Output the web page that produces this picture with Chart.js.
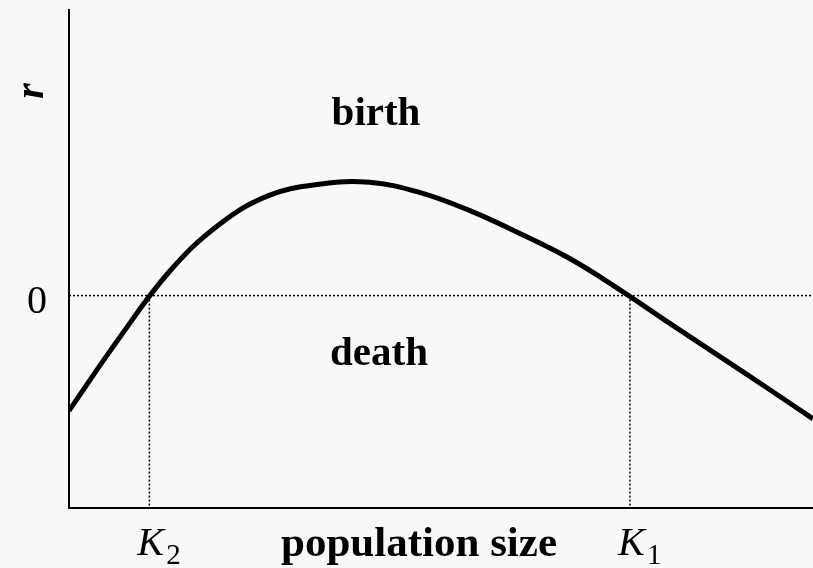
<!DOCTYPE html>
<html>
<head>
<meta charset="utf-8">
<script src="https://cdn.jsdelivr.net/npm/chart.js@4"></script>
<style>
  html, body { margin: 0; padding: 0; background: #f8f8f8; }
  #wrap { width: 813px; height: 568px; }
</style>
</head>
<body>
<div id="wrap"><canvas id="rChart"></canvas></div>
<script>
  // population size (relative units) and growth rate r
  const popSize = [0, 6.7, 13.5, 20.2, 26.9, 33.6, 40.4, 47.1, 53.8, 60.6, 67.3, 74, 80.8, 87.5, 94.2, 100];
  const rate    = [-1.15, -0.43, 0.24, 0.71, 1.0, 1.11, 1.13, 1.03, 0.85, 0.62, 0.37, 0.06, -0.28, -0.61, -0.94, -1.23];
  const K2 = 10.8;
  const K1 = 75.4;
  const Y_MIN = -2.12, Y_MAX = 2.85;

  const serif = '"Liberation Serif", "Times New Roman", serif';

  // texte sur le graphique
  const labelPlugin = {
    id: 'labels',
    afterDraw(chart) {
      const c = chart.ctx, x = chart.scales.x, y = chart.scales.y;
      c.save();
      c.fillStyle = '#000';
      c.textBaseline = 'alphabetic';
      c.textAlign = 'center';
      c.font = 'bold 41px ' + serif;
      c.fillText('birth', 376, 125);
      c.fillText('death', 379, 365);
      c.font = 'bold 43px ' + serif;
      c.fillText('population size', 419, 556);
      c.font = '40px ' + serif;
      c.textAlign = 'right';
      c.fillText('0', 47, y.getPixelForValue(0) + 17);
      // K labels with subscripts
      [[K2, '2'], [K1, '1']].forEach(([k, sub]) => {
        const px = x.getPixelForValue(k);
        c.textAlign = 'left';
        c.font = 'italic 40px ' + serif;
        c.fillText('K', px - 12, 555);
        c.font = '29px ' + serif;
        c.fillText(sub, px + 17, 564);
      });
      // r axis title
      c.translate(33, 91);
      c.rotate(-Math.PI / 2);
      c.textAlign = 'center';
      c.font = 'italic bold 40px ' + serif;
      c.fillText('r', 0, 10);
      c.restore();
    }
  };

  const ctx = document.getElementById('rChart').getContext('2d');
  new Chart(ctx, {
    type: 'line',
    data: {
      datasets: [
        {
          data: popSize.map((v, i) => ({ x: v, y: rate[i] })),
          borderColor: '#000',
          borderWidth: 5,
          pointRadius: 0,
          tension: 0.4
        },
        {
          data: [{ x: 0, y: 0 }, { x: 100, y: 0 }],
          borderColor: '#000', borderWidth: 1.5, borderDash: [2, 2], pointRadius: 0
        },
        {
          data: [{ x: K2, y: 0 }, { x: K2, y: Y_MIN }],
          borderColor: '#000', borderWidth: 1.5, borderDash: [2, 2], pointRadius: 0
        },
        {
          data: [{ x: K1, y: 0 }, { x: K1, y: Y_MIN }],
          borderColor: '#000', borderWidth: 1.5, borderDash: [2, 2], pointRadius: 0
        }
      ]
    },
    options: {
      responsive: true,
      maintainAspectRatio: false,
      animation: false,
      layout: { padding: { left: 69, top: 10, right: 0, bottom: 60 } },
      plugins: { legend: { display: false }, tooltip: { enabled: false } },
      scales: {
        x: {
          type: 'linear', min: 0, max: 100,
          grid: { display: false, drawTicks: false },
          ticks: { display: false },
          border: { color: '#000', width: 2 }
        },
        y: {
          min: Y_MIN, max: Y_MAX,
          grid: { display: false, drawTicks: false },
          ticks: { display: false },
          border: { color: '#000', width: 2 }
        }
      }
    },
    plugins: [labelPlugin]
  });
</script>
</body>
</html>
